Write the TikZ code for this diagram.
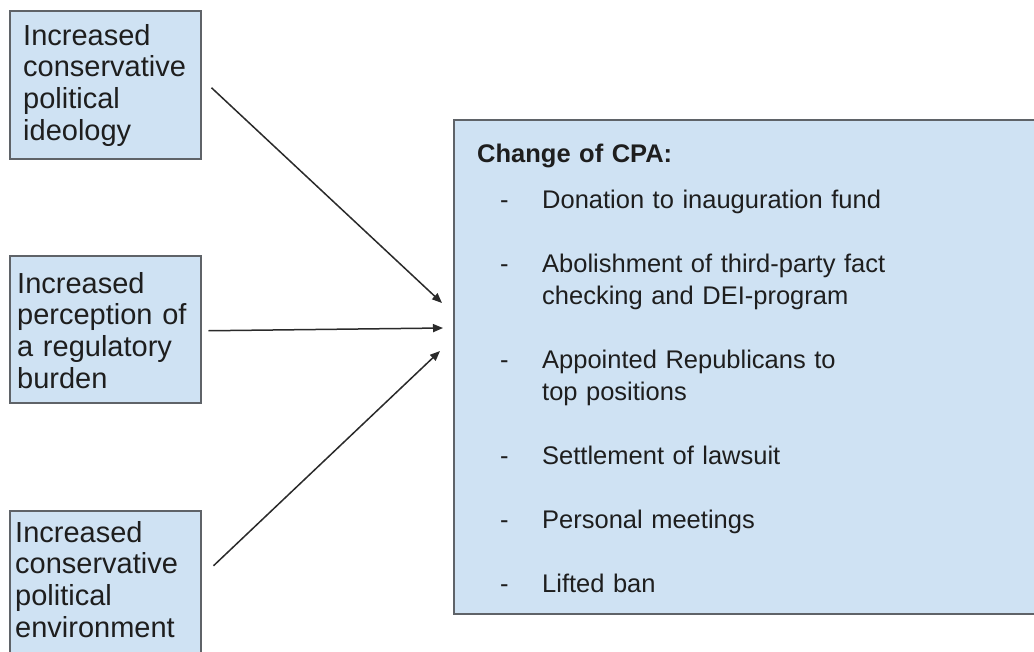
\documentclass[tikz,border=0pt]{standalone}
\usepackage{fontspec}
\setmainfont{Liberation Sans}
\usetikzlibrary{arrows.meta,calc}
\definecolor{boxfill}{HTML}{CFE2F3}
\definecolor{boxline}{HTML}{5F6368}
\definecolor{ink}{HTML}{1E1E1E}
\definecolor{arrowink}{HTML}{2A2A2A}
\tikzset{
  causebox/.style={draw=boxline, line width=1.5pt, fill=boxfill, rectangle,
    inner sep=0pt, anchor=north west},
  causetext/.style={anchor=base west, inner sep=0pt, text width=185pt,
    align=left, text=ink, font=\fontsize{29}{31.7}\selectfont},
  listtext/.style={anchor=base west, inner sep=0pt, text width=520pt,
    align=left, text=ink, font=\fontsize{25.5}{32}\selectfont},
  link/.style={draw=arrowink, line width=1.5pt,
    -{Triangle[length=10pt,width=8pt,fill=arrowink]}},
}
\newcommand{\dashitem}{\hspace*{23pt}\makebox[42pt][l]{-}}
\newcommand{\hangitem}{\hspace*{65pt}}
\begin{document}
\begin{tikzpicture}[x=1pt,y=-1pt]
  \clip (0,0) rectangle (1034,651);
  \fill[white] (0,0) rectangle (1034,651);

  % three causes on the left
  \node[causebox, minimum width=191pt, minimum height=148pt] (b1) at (9,10) {};
  \node[causetext] (t1) at (23,45)
    {Increased\\conservative\\political\\ideology};

  \node[causebox, minimum width=191pt, minimum height=147pt] (b2) at (9,255) {};
  \node[causetext] (t2) at (17,293)
    {Increased\\perception of\\a regulatory\\burden};

  \node[causebox, minimum width=191pt, minimum height=150pt] (b3) at (9,510) {};
  \node[causetext] (t3) at (15,542)
    {Increased\\conservative\\political\\environment};

  % outcome box on the right
  \node[causebox, line width=2pt, minimum width=600pt, minimum height=494pt] (main) at (453,119) {};
  \node[listtext] (list) at (477,162)
    {\textbf{Change of CPA:}\\[14pt]
     \dashitem Donation to inauguration fund\\[32pt]
     \dashitem Abolishment of third-party fact\\
     \hangitem checking and DEI-program\\[32pt]
     \dashitem Appointed Republicans to\\
     \hangitem top positions\\[32pt]
     \dashitem Settlement of lawsuit\\[32pt]
     \dashitem Personal meetings\\[32pt]
     \dashitem Lifted ban};

  % causal links
  \draw[link] ([xshift=10pt,yshift=-3pt]b1.east) -- ([xshift=-11pt,yshift=64pt]main.west);
  \draw[link] ([xshift=7pt,yshift=-1.5pt]b2.east) -- ([xshift=-10pt,yshift=39pt]main.west);
  \draw[link] ([xshift=12pt,yshift=20pt]b3.east) -- ([xshift=-13pt,yshift=16pt]main.west);
\end{tikzpicture}
\end{document}
